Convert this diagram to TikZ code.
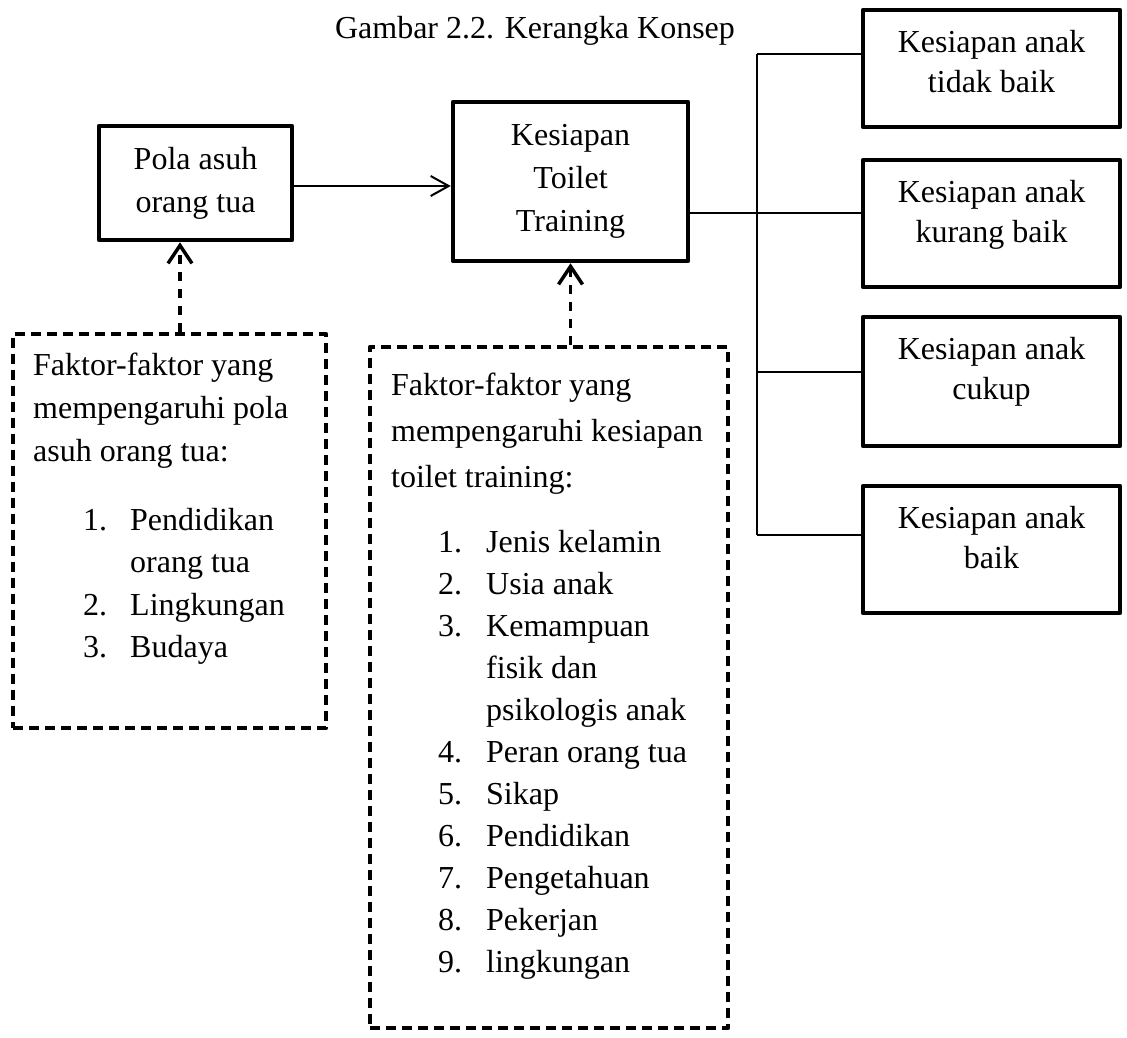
\documentclass[tikz,border=0pt]{standalone}
\usepackage{fontspec}
\setmainfont{Liberation Serif}
\usetikzlibrary{arrows.meta}

\tikzset{
  solidbox/.style={draw, line width=4.5pt, line join=round, align=center, inner sep=0pt, font=\fontsize{32}{43}\selectfont},
  hasilbox/.style={draw, line width=4.5pt, line join=round, inner sep=0pt, minimum width=257pt},
  faktorbox/.style={draw, line width=4.5pt, line join=round, dash pattern=on 10pt off 6pt},
  txt/.style={anchor=base west, inner sep=0pt, font=\fontsize{32}{43}\selectfont},
  dasharr/.style={line width=3.5pt, dash pattern=on 9pt off 8pt, -{Straight Barb[length=18pt,width=24pt]}},
}

\begin{document}
\begin{tikzpicture}[x=1pt,y=-1pt]
\useasboundingbox (0,0) rectangle (1127,1037);

%title
\node[txt, anchor=base] (judul) at (535,38) {Gambar 2.2. Kerangka Konsep};

%main boxes
\node[solidbox, minimum width=193pt, minimum height=114pt] (pola) at (195.5,183) {Pola asuh\\orang tua};
\node[solidbox, minimum width=235pt, minimum height=159pt] (ktt) at (570.5,181.5) {Kesiapan\\Toilet\\Training};

%result boxes
\node[hasilbox, minimum height=117pt] (kab1) at (991.5,68.5) {};
\node[hasilbox, minimum height=127pt] (kab2) at (991.5,223.5) {};
\node[hasilbox, minimum height=129pt] (kab3) at (991.5,381.5) {};
\node[hasilbox, minimum height=127pt] (kab4) at (991.5,549.5) {};

%result box text
\foreach \yy/\isi [count=\i] in {52/tidak baik, 202/kurang baik, 359/cukup, 528/baik}
{
  \node[txt, anchor=base] (kab\i-a) at (991.5,\yy) {Kesiapan anak};
  \node[txt, anchor=base] (kab\i-b) at (991.5,\yy+40) {\isi};
}

%dashed boxes
\node[faktorbox, minimum width=313pt, minimum height=394pt] (fpola) at (169.5,531) {};
\node[faktorbox, minimum width=358pt, minimum height=681pt] (fktt) at (549,687.5) {};

%text of left dashed box
\foreach \yy/\isi [count=\i] in {375/Faktor-faktor yang, 418/mempengaruhi pola, 461/asuh orang tua:}
  \node[txt] (fpola-t\i) at (33,\yy) {\isi};
\foreach \yy/\nm/\isi [count=\i] in {530/1./Pendidikan, 572//orang tua, 615/2./Lingkungan, 657/3./Budaya}
{
  \node[txt] (fpola-n\i) at (83,\yy) {\nm};
  \node[txt] (fpola-i\i) at (130,\yy) {\isi};
}

%text of middle dashed box
\foreach \yy/\isi [count=\i] in {395/Faktor-faktor yang, 441/mempengaruhi kesiapan, 487/toilet training:}
  \node[txt] (fktt-t\i) at (391,\yy) {\isi};
\foreach \yy/\nm/\isi [count=\i] in {552/1./Jenis kelamin, 594/2./Usia anak, 636/3./Kemampuan,
  678//fisik dan, 720//psikologis anak, 762/4./Peran orang tua, 804/5./Sikap,
  846/6./Pendidikan, 888/7./Pengetahuan, 930/8./Pekerjan, 972/9./lingkungan}
{
  \node[txt] (fktt-n\i) at (438,\yy) {\nm};
  \node[txt] (fktt-i\i) at (486,\yy) {\isi};
}

%arrows
\draw[line width=2pt, -{Straight Barb[length=18pt,width=20pt]}] (pola.east |- 0,186) -- (ktt.west |- 0,186);

\coordinate (up1) at (180,300);
\draw[dasharr] (fpola.north -| up1) -- (pola.south -| up1);
\draw[dasharr] (fktt.north -| ktt.south) -- (ktt.south);

%bracket to result boxes
\coordinate (t1) at (757,54);
\coordinate (t2) at (757,213);
\coordinate (t3) at (757,372);
\coordinate (t4) at (757,535);
\draw[line width=2pt] (t1) -- (t4);
\draw[line width=2pt] (ktt.east |- t2) -- (t2);
\foreach \i in {1,...,4}
  \draw[line width=2pt] (t\i) -- (t\i -| kab\i.west);

\end{tikzpicture}
\end{document}
